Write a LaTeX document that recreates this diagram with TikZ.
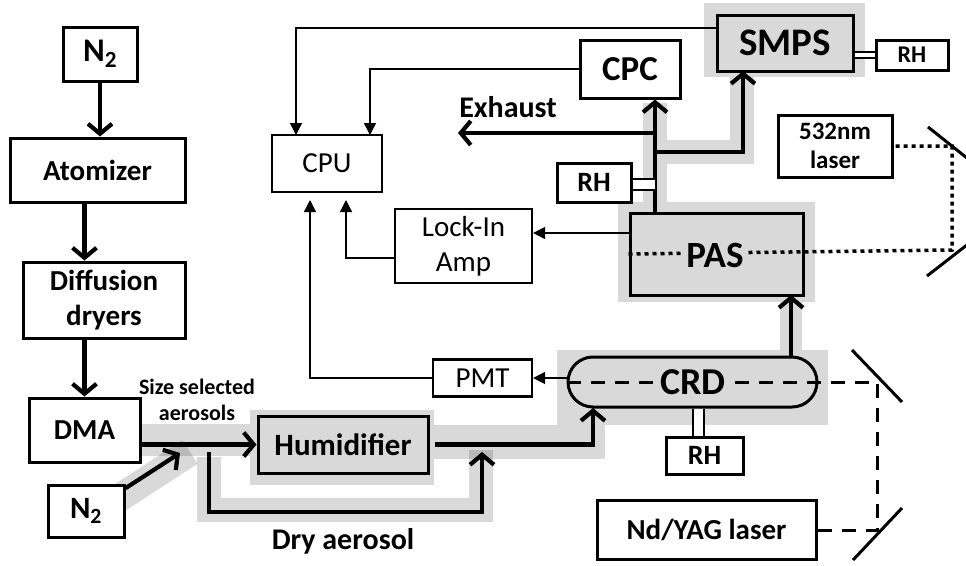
\documentclass[tikz,border=0pt]{standalone}
\usepackage{fontspec}
\setmainfont{Carlito}
\usetikzlibrary{arrows.meta,positioning,calc,backgrounds}
\definecolor{shade}{RGB}{217,217,217}

\begin{document}
\begin{tikzpicture}[x=1pt,y=-1pt]

		\useasboundingbox (0,0) rectangle (966,565);

		\tikzset{box/.style={draw,line width=3pt,fill=white,inner sep=0pt,align=center,font=\bfseries\fontsize{29}{35}\selectfont}}
		\tikzset{graybox/.style={box,fill=shade}}
		\tikzset{thinbox/.style={box,line width=2.2pt,font=\fontsize{29}{35}\selectfont}}
		\tikzset{flow/.style={draw,line width=4.2pt,-{Straight Barb[length=10pt,width=24pt,line width=4.2pt]}}}
		\tikzset{signal/.style={draw,line width=1.4pt,-{Triangle[length=12pt,width=12pt]}}}
		\tikzset{band/.style={draw=black,opacity=0.15,line width=24pt}}
		\tikzset{halo/.style={fill=black,opacity=0.15}}
		\tikzset{rhlink/.style={draw,line width=2pt,double,double distance=#1}}
		\tikzset{beam/.style={line width=3pt,dash pattern=on 14pt off 10pt}}
		\tikzset{dots/.style={line width=3.5pt,dash pattern=on 4pt off 4pt}}
		\tikzset{mirror/.style={draw,line width=3pt}}
		\tikzset{tag/.style={inner sep=2pt,align=center,font=\bfseries\fontsize{30}{35}\selectfont}}

		% sample line
		\node[box,minimum width=74pt,minimum height=54pt,font=\bfseries\fontsize{33}{35}\selectfont] (n2top) at (100,54) {N\textsubscript{2}};
		\node[box,minimum width=175pt,minimum height=64pt] (atom) at (97.5,170) {Atomizer};
		\node[box,minimum width=162pt,minimum height=76pt] (dryer) at (104,300) {Diffusion\\dryers};
		\node[box,minimum width=111pt,minimum height=64pt] (dma) at (84.5,430) {DMA};
		\node[box,minimum width=76pt,minimum height=52pt,font=\bfseries\fontsize{31}{35}\selectfont] (n2low) at (86,511) {N\textsubscript{2}};
		\node[graybox,minimum width=170pt,minimum height=57pt,font=\bfseries\fontsize{31}{35}\selectfont] (hum) at (343,444.5) {Humidifier};

		% cavity ring-down and lasers
		\node[graybox,rounded corners=25pt,minimum width=249pt,minimum height=50pt] (crd) at (692.5,382) {};
		\node[box,minimum width=77pt,minimum height=37pt,font=\bfseries\fontsize{28}{30}\selectfont] (crdrh) at (704.5,455.5) {RH};
		\node[box,minimum width=219pt,minimum height=59pt,font=\bfseries\fontsize{29}{30}\selectfont] (yag) at (706.5,530) {Nd/YAG laser};
		\node[thinbox,minimum width=99pt,minimum height=37pt] (pmt) at (482.5,378) {PMT};

		% photoacoustic side
		\node[graybox,minimum width=173pt,minimum height=82pt] (pas) at (716.5,254) {};
		\node[thinbox,minimum width=137pt,minimum height=74pt] (lock) at (463.5,246) {Lock-In\\Amp};
		\node[thinbox,minimum width=110pt,minimum height=57pt] (cpu) at (327,163.5) {CPU};
		\node[box,minimum width=100pt,minimum height=58pt,font=\bfseries\fontsize{35}{40}\selectfont] (cpc) at (630,69) {CPC};
		\node[graybox,minimum width=136pt,minimum height=56pt,font=\bfseries\fontsize{39}{42}\selectfont] (smps) at (785,43) {SMPS};
		\node[box,minimum width=72pt,minimum height=30pt,font=\bfseries\fontsize{24}{26}\selectfont] (smpsrh) at (912,55) {RH};
		\node[box,minimum width=74pt,minimum height=39pt,font=\bfseries\fontsize{28}{30}\selectfont] (pasrh) at (594,182.5) {RH};
		\node[box,minimum width=114pt,minimum height=62pt,font=\bfseries\fontsize{25}{29}\selectfont] (laser) at (835,146) {532nm\\laser};

		\coordinate (mix) at (180,453);
		\coordinate (byin) at (209,452);
		\coordinate (byout) at (482,452);
		\coordinate (drylow) at (345,512);
		\coordinate (crdin) at (593,408);
		\coordinate (pasin) at (791,295);
		\coordinate (stack) at (655,152);
		\coordinate (smpsin) at (743,71);
		\coordinate (exh) at (458,133);
		\coordinate (cpuA) at (296,135);
		\coordinate (cpuB) at (370,135);
		\coordinate (cpuC) at (310,200);
		\coordinate (cpuD) at (346,200);
		\coordinate (mirA) at (877,382);
		\coordinate (mirB) at (877,530);
		\coordinate (mirC) at (952,146);
		\coordinate (mirD) at (952,250);

		% gray highlight of the aerosol path
		\begin{pgfonlayer}{background}
			\draw[band,line width=28pt] (110,504) -- (190,452);
			\draw[band,line width=32pt] (142,440) -- (250,440);
			\fill[halo] (250,410) rectangle (434,485);
			\draw[band,line width=34pt] (434,442) -- (605,442);
			\fill[halo] (557,350) rectangle (828,425);
			\draw[band] (209,457) |- (480.5,510) -- (480.5,450);
			\draw[band,line width=22pt] (791,302) -- (791,350);
			\fill[halo] (618,202) rectangle (815,302);
			\draw[band] (655,202) -- (655,103);
			\draw[band] (667,151.5) -| (741.5,77);
			\fill[halo] (704,3) rectangle (865,77);
		\end{pgfonlayer}

		% laser beams
		\draw[beam] (crd.west) -- (mirA) -- (mirB) -- (yag.east |- mirB);
		\node[tag,fill=shade,font=\bfseries\fontsize{38}{40}\selectfont] (crdtag) at (693,382) {CRD};
		\draw[dots] (pas.west) -- (mirD) -- (mirC) -- (laser.east |- mirC);
		\node[tag,fill=shade,font=\bfseries\fontsize{37}{40}\selectfont] (pastag) at (715,255) {PAS};

		\draw[mirror] (852,350) -- (902,402);
		\draw[mirror] (853,560) -- (902,508);
		\draw[mirror] (928,127) -- (972,162);
		\draw[mirror] (927,276) -- (972,241);

		% aerosol flow
		\draw[flow] (n2top.south) -- (n2top.south |- atom.north);
		\draw[flow] (atom.south -| dma) -- (dryer.north -| dma);
		\draw[flow] (dryer.south -| dma) -- (dma.north);
		\draw[flow] (dma.east |- hum) -- (hum.west);
		\draw[flow] (n2low.30) -- (mix);
		\draw[flow] (byin) |- (drylow) -| (byout);
		\draw[flow] ([xshift=5pt]hum.east) -| (crdin);
		\draw[flow] (pasin |- crd.north) -- (pasin);
		\draw[flow] (stack |- pas.north) -- (stack |- cpc.south);
		\draw[flow] (stack) -| (smpsin);
		\draw[flow] (stack |- exh) -- (exh);

		\draw[rhlink=9pt] ([yshift=-2pt]pasrh.east) -- ([yshift=-2pt]pasrh.east -| stack);
		\draw[rhlink=4pt] (smpsrh.west -| smps.east) -- (smpsrh.west);
		\draw[rhlink=9pt] ([xshift=-6pt]crdrh.north |- crd.south) -- ([xshift=-6pt]crdrh.north);

		% signals
		\draw[signal] ([yshift=15pt]smps.west) -| (cpuA);
		\draw[signal] (cpc.west) -| (cpuB);
		\draw[signal] ([yshift=21pt]pas.west) -- ([yshift=21pt]pas.west -| lock.east);
		\draw[signal] ([yshift=-12pt]lock.west) -| (cpuD);
		\draw[signal] (crd.west |- pmt) -- (pmt.east);
		\draw[signal] (pmt.west) -| (cpuC);

		\node[tag,font=\bfseries\fontsize{22}{26}\selectfont] (sizetag) at (197,400) {Size selected\\aerosols};
		\node[tag] (exhtag) at (508,107) {Exhaust};
		\node[tag] (drytag) at (343,541) {Dry aerosol};

	\end{tikzpicture}
\end{document}
